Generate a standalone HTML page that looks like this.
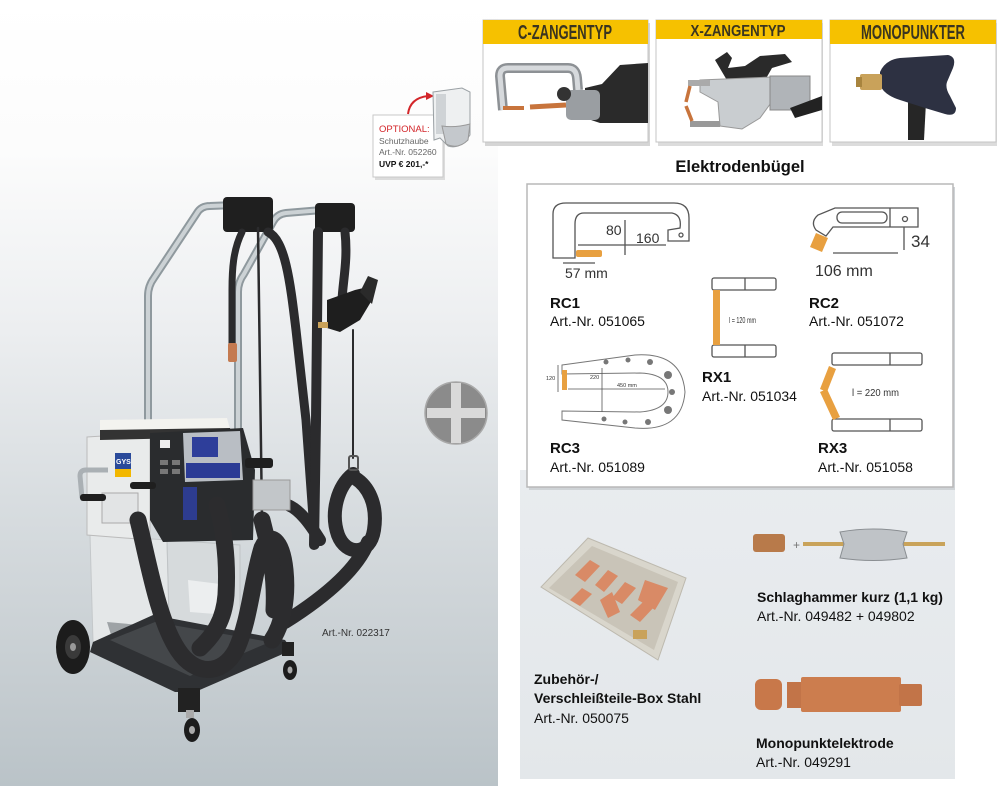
<!DOCTYPE html>
<html><head><meta charset="utf-8"><style>
html,body{margin:0;padding:0;background:#fff}
#c{position:relative;width:1000px;height:786px;overflow:hidden;background:#fff}
#lbg{position:absolute;left:0;top:0;width:498px;height:786px;background:linear-gradient(to bottom,#fff 0px,#fcfcfc 150px,#eceef0 330px,#d8dde0 500px,#c6cdd1 680px,#bac3c8 786px)}
#rp{position:absolute;left:520px;top:470px;width:435px;height:309px;background:linear-gradient(to bottom,#e9ecef,#e3e7ea)}
svg{position:absolute;left:0;top:0}
</style></head><body><div id="c">
<div id="lbg"></div><div id="rp"></div>
<svg width="1000" height="786" viewBox="0 0 1000 786" font-family="'Liberation Sans',Arial,sans-serif">
<!-- top cards -->
<rect x="485" y="23" width="165" height="123" fill="#d5d5d5"/>
<rect x="483" y="20" width="165" height="122" fill="#fff" stroke="#c4c4c4"/>
<rect x="483" y="20" width="165" height="24" fill="#f6c100"/>
<text x="565" y="39" text-anchor="middle" font-size="20" font-weight="bold" fill="#3a3520" textLength="94" lengthAdjust="spacingAndGlyphs">C-ZANGENTYP</text>
<rect x="658" y="23" width="165" height="123" fill="#dcdcdc"/>
<rect x="656" y="20" width="166" height="122" fill="#fff" stroke="#c4c4c4"/>
<rect x="656" y="20" width="166" height="19" fill="#f6c100"/>
<text x="738" y="36" text-anchor="middle" font-size="16" font-weight="bold" fill="#3a3520" textLength="95" lengthAdjust="spacingAndGlyphs">X-ZANGENTYP</text>
<rect x="832" y="23" width="165" height="123" fill="#dcdcdc"/>
<rect x="830" y="20" width="166" height="122" fill="#fff" stroke="#c4c4c4"/>
<rect x="830" y="20" width="166" height="24" fill="#f6c100"/>
<text x="913" y="39" text-anchor="middle" font-size="20" font-weight="bold" fill="#3a3520" textLength="104" lengthAdjust="spacingAndGlyphs">MONOPUNKTER</text>
<!-- card1 tool -->
<path d="M503,110 L500,76 Q500,68 508,68 L568,68 Q576,68 577,78 L578,90" fill="none" stroke="#8d9195" stroke-width="10"/>
<path d="M503,110 L500,76 Q500,68 508,68 L568,68 Q576,68 577,78 L578,90" fill="none" stroke="#d6d9dc" stroke-width="5"/>
<line x1="503" y1="108" x2="524" y2="108" stroke="#c8743c" stroke-width="4"/>
<line x1="530" y1="107" x2="566" y2="105" stroke="#c8743c" stroke-width="5"/>
<polygon points="585,88 602,84 620,65 648,63 648,123 600,123 585,118" fill="#2a2a2a"/>
<rect x="566" y="90" width="34" height="30" rx="5" fill="#9a9ea2"/>
<circle cx="564" cy="94" r="7" fill="#333"/>
<!-- card2 tool -->
<polygon points="715,60 727,52 732,58 728,68 745,66 760,56 785,54 792,62 772,68 764,82 728,82" fill="#2a2a2a"/>
<polygon points="700,80 772,77 776,96 760,118 742,129 720,126 718,102 700,92" fill="#c9cdd0" stroke="#999"/>
<rect x="770" y="76" width="40" height="34" fill="#b0b4b8" stroke="#888"/>
<polygon points="790,108 822,96 822,110 795,118" fill="#222"/>
<rect x="688" y="80" width="22" height="6" fill="#aaa"/>
<rect x="690" y="121" width="30" height="6" fill="#999"/>
<line x1="690" y1="86" x2="686" y2="102" stroke="#c8743c" stroke-width="3.5"/>
<line x1="686" y1="106" x2="692" y2="121" stroke="#c8743c" stroke-width="3.5"/>
<!-- card3 tool -->
<polygon points="908,98 926,102 924,140 908,140" fill="#262626"/>
<path d="M880,72 Q885,60 900,58 L948,55 Q957,57 953,68 L947,82 Q945,88 950,96 L956,108 Q956,117 945,114 L925,108 L900,100 Q884,95 880,85 Z" fill="#2d3142"/>
<rect x="860" y="74" width="22" height="16" rx="2" fill="#c9a25a"/>
<rect x="856" y="77" width="6" height="10" fill="#a8843e"/>
<!-- optional box -->
<rect x="375" y="118" width="70" height="62" fill="#dcdcdc"/>
<rect x="373" y="115" width="70" height="62" fill="#fff" stroke="#c8c8c8"/>
<text x="379" y="132" font-size="9.5" fill="#d3262a">OPTIONAL:</text>
<text x="379" y="144" font-size="8.5" fill="#666">Schutzhaube</text>
<text x="379" y="155" font-size="8.5" fill="#666">Art.-Nr. 052260</text>
<text x="379" y="167" font-size="8.5" font-weight="bold" fill="#111">UVP € 201,-*</text>
<path d="M408,114 Q410,98 428,96" fill="none" stroke="#d3262a" stroke-width="2"/>
<polygon points="426,92 434,96 426,100" fill="#d3262a"/>
<path d="M433,92 L462,88 L470,92 L470,135 Q460,150 448,146 L440,138 L434,140 Z" fill="#eef0f1" stroke="#9aa0a4"/>
<rect x="436" y="94" width="10" height="40" fill="#cfd3d6"/>
<path d="M442,126 Q455,128 470,124 L468,140 Q458,150 446,144 Z" fill="#c4c8cc" stroke="#999"/>
<!-- title -->
<text x="740" y="172" text-anchor="middle" font-size="16.5" font-weight="bold" fill="#111">Elektrodenbügel</text>
<!-- electrode box -->
<rect x="529" y="187" width="426" height="303" fill="#cfd3d6"/>
<rect x="527" y="184" width="426" height="303" fill="#fff" stroke="#b8b8b8" stroke-width="1.5"/>
<g fill="none" stroke="#555" stroke-width="1.3">
<!-- RC1 -->
<path d="M553,258 L553,214 Q553,203 566,203 L674,203 Q689,203 689,218 L689,241 L668,241 L668,230 L680,228 Q682,215 672,213 L584,213 Q575,213 575,224 L575,258 Z" fill="#fff"/>
<circle cx="681" cy="235" r="2"/>
<line x1="578" y1="245" x2="666" y2="245"/><line x1="625" y1="220" x2="625" y2="255"/>
<line x1="563" y1="263" x2="595" y2="263"/>
<!-- RC2 -->
<path d="M835,208 L918,208 L918,227 L833,227 L826,236 L816,230 Q810,222 818,215 Z" fill="#fff"/>
<rect x="837" y="212" width="50" height="11" rx="5"/>
<line x1="890" y1="208" x2="890" y2="227"/><circle cx="905" cy="219" r="2.5"/>
<line x1="833" y1="253" x2="898" y2="253"/><line x1="904" y1="227" x2="904" y2="250"/>
<!-- RX1 -->
<rect x="712" y="278" width="64" height="12" rx="2" fill="#fff"/><line x1="745" y1="278" x2="745" y2="290"/>
<rect x="712" y="345" width="64" height="12" rx="2" fill="#fff"/><line x1="745" y1="345" x2="745" y2="357"/>
<!-- RX3 -->
<rect x="832" y="353" width="90" height="12" rx="2" fill="#fff"/><line x1="890" y1="353" x2="890" y2="365"/>
<rect x="832" y="419" width="90" height="12" rx="2" fill="#fff"/><line x1="890" y1="419" x2="890" y2="431"/>
<!-- RC3 -->
<path d="M562,365 L635,355 Q682,352 685,392 Q682,432 635,428 L562,420 L562,411 L640,412 Q668,410 668,392 Q668,374 640,373 L562,374 Z" fill="#fff" stroke="#777" stroke-width="1"/>
<line x1="568" y1="389" x2="665" y2="389" stroke-width="0.8"/><line x1="602" y1="368" x2="602" y2="412" stroke-width="0.8"/>
<line x1="558" y1="365" x2="558" y2="392" stroke-width="0.8"/>
</g>
<g fill="#777" stroke="none">
<circle cx="606" cy="362" r="2.5"/><circle cx="628" cy="360" r="2.5"/><circle cx="650" cy="362" r="3"/><circle cx="668" cy="375" r="4"/><circle cx="672" cy="392" r="3"/><circle cx="668" cy="410" r="4"/><circle cx="648" cy="422" r="3"/><circle cx="625" cy="422" r="2.5"/><circle cx="604" cy="419" r="2.5"/>
</g>
<g fill="#e8a040">
<rect x="576" y="250" width="26" height="7" rx="2"/>
<polygon points="816,233 828,238 822,252 810,247"/>
<rect x="713" y="290" width="7" height="55"/>
<polygon points="829,366 836,369 827,392 820,389"/>
<polygon points="820,392 827,389 840,417 833,420"/>
<rect x="562" y="370" width="5" height="20"/>
</g>
<g fill="#333" font-size="14">
<text x="606" y="235">80</text><text x="636" y="243">160</text><text x="565" y="278">57 mm</text>
<text x="911" y="247" font-size="17">34</text><text x="815" y="276" font-size="16">106 mm</text>
<text x="729" y="323" font-size="8" textLength="27" lengthAdjust="spacingAndGlyphs">l = 120 mm</text>
<text x="852" y="396" font-size="10" textLength="47" lengthAdjust="spacingAndGlyphs">l = 220 mm</text>
<text x="546" y="380" font-size="5.5">120</text><text x="590" y="379" font-size="5.5">220</text><text x="617" y="387" font-size="5.5">450 mm</text>
</g>
<g fill="#111">
<text x="550" y="308" font-size="15" font-weight="bold">RC1</text><text x="550" y="326" font-size="14">Art.-Nr. 051065</text>
<text x="809" y="308" font-size="15" font-weight="bold">RC2</text><text x="809" y="326" font-size="14">Art.-Nr. 051072</text>
<text x="702" y="382" font-size="15" font-weight="bold">RX1</text><text x="702" y="401" font-size="14">Art.-Nr. 051034</text>
<text x="550" y="453" font-size="15" font-weight="bold">RC3</text><text x="550" y="472" font-size="14">Art.-Nr. 051089</text>
<text x="818" y="453" font-size="15" font-weight="bold">RX3</text><text x="818" y="472" font-size="14">Art.-Nr. 051058</text>
</g>
<!-- bottom panel images -->
<polygon points="588,538 686,578 658,660 541,587" fill="#d9d6cc" stroke="#bdb9ae"/>
<polygon points="592,546 678,582 654,650 549,588" fill="#c9c4b8"/>
<g fill="#d98a66">
<polygon points="575,575 590,560 600,566 585,582"/><polygon points="595,585 608,570 618,576 604,592"/>
<polygon points="612,598 625,582 636,588 622,604"/><polygon points="570,600 582,588 592,594 580,606"/>
<polygon points="630,615 645,600 655,606 640,622"/><polygon points="645,580 668,588 655,610 638,600"/>
<polygon points="600,600 612,592 620,612 608,618"/>
</g>
<rect x="633" y="630" width="14" height="9" fill="#c9a25a"/>
<rect x="753" y="534" width="32" height="18" rx="3" fill="#b87a4a"/>
<text x="793" y="549" font-size="12" fill="#777">+</text>
<line x1="803" y1="544" x2="945" y2="544" stroke="#c9a35a" stroke-width="4"/>
<path d="M840,532 Q873,526 907,532 L903,544 L907,558 Q873,563 840,558 L844,544 Z" fill="#bfc3c7" stroke="#8a8e92"/>
<rect x="755" y="679" width="27" height="31" rx="6" fill="#c8784a"/>
<rect x="787" y="682" width="16" height="26" fill="#c27448"/>
<rect x="801" y="677" width="100" height="35" rx="2" fill="#cc7d4e"/>
<rect x="899" y="684" width="23" height="22" rx="2" fill="#c27448"/>
<g fill="#111">
<text x="757" y="602" font-size="14" font-weight="bold">Schlaghammer kurz (1,1 kg)</text>
<text x="757" y="621" font-size="14">Art.-Nr. 049482 + 049802</text>
<text x="534" y="684" font-size="14" font-weight="bold">Zubehör-/</text>
<text x="534" y="703" font-size="14" font-weight="bold">Verschleißteile-Box Stahl</text>
<text x="534" y="723" font-size="14">Art.-Nr. 050075</text>
<text x="756" y="748" font-size="14" font-weight="bold">Monopunktelektrode</text>
<text x="756" y="767" font-size="14">Art.-Nr. 049291</text>
</g>
<!-- plus -->
<circle cx="456" cy="413" r="31" fill="#8b8b8b" stroke="#a9a9a9" stroke-width="1.5"/>
<rect x="427" y="408" width="58" height="10" fill="#d9d9d9"/>
<rect x="451" y="383" width="10" height="60" fill="#d9d9d9"/>
<!-- machine: tubes -->
<g fill="none" stroke-linecap="round">
<path d="M148,480 L148,296 Q148,286 154,278 L197,213 Q201,206 210,206 L235,205" stroke="#8f999e" stroke-width="8"/>
<path d="M148,480 L148,296 Q148,286 154,278 L197,213 Q201,206 210,206 L235,205" stroke="#ccd2d5" stroke-width="4"/>
<path d="M238,450 L238,292 Q238,282 244,274 L273,222 Q277,214 286,213 L322,210" stroke="#8f999e" stroke-width="8"/>
<path d="M238,450 L238,292 Q238,282 244,274 L273,222 Q277,214 286,213 L322,210" stroke="#ccd2d5" stroke-width="4"/>
</g>
<rect x="223" y="197" width="50" height="35" rx="4" fill="#1f1f1f"/>
<rect x="315" y="203" width="40" height="29" rx="4" fill="#1f1f1f"/>
<g fill="none" stroke="#2b2b2d" stroke-linecap="round">
<path d="M242,232 C233,250 232,270 232,290 L232,345" stroke-width="7"/>
<path d="M258,228 L262,520" stroke-width="2.5"/>
<path d="M268,232 C285,240 290,280 296,330 L306,420 L315,545" stroke-width="9"/>
<path d="M318,232 L316,420 L314,545" stroke-width="10"/>
<path d="M345,232 C348,260 343,280 342,300" stroke-width="9"/>
<path d="M353,330 L353,458" stroke-width="2"/>
<path d="M353,474 C338,486 330,512 338,535 C346,556 370,556 374,530 C378,504 368,486 355,478" stroke-width="14"/>
<path d="M368,542 C356,572 320,600 285,622" stroke-width="14"/>
<path d="M288,505 C300,510 310,524 320,540" stroke-width="12"/>
</g>
<rect x="228" y="343" width="9" height="19" rx="2" fill="#c47a50"/>
<rect x="349" y="456" width="9" height="14" rx="2" fill="none" stroke="#555" stroke-width="2"/>
<polygon points="327,300 355,290 372,286 372,300 360,320 340,332 327,328" fill="#1e1e1e"/>
<polygon points="360,292 368,276 378,280 372,304" fill="#2a2a2a"/>
<rect x="318" y="322" width="10" height="6" fill="#c9a25a"/>
<!-- trolley -->
<polygon points="90,535 167,540 170,662 93,642" fill="#e4e7e8" stroke="#c4c8ca"/>
<polygon points="107,622 140,625 140,640 112,638" fill="#9ea3a6"/>
<polygon points="167,540 240,545 240,630 170,650" fill="#d6dadc" stroke="#c0c4c6"/>
<polygon points="188,580 228,585 228,615 190,612" fill="#eceeef"/>
<polygon points="93,642 153,615 285,640 292,650 195,692 175,692 90,652" fill="#2f3134"/>
<polygon points="110,640 155,622 270,642 190,676" fill="#44474a"/>
<ellipse cx="73" cy="647" rx="17" ry="27" fill="#1c1c1c"/>
<ellipse cx="73" cy="647" rx="8" ry="12" fill="#3a3a3a"/><ellipse cx="73" cy="647" rx="3" ry="4" fill="#999"/>
<rect x="178" y="688" width="22" height="24" fill="#222"/>
<rect x="186" y="710" width="8" height="8" fill="#aaa"/>
<ellipse cx="192" cy="730" rx="8" ry="12" fill="#1c1c1c"/><ellipse cx="192" cy="730" rx="3" ry="4" fill="#aaa"/>
<rect x="282" y="642" width="12" height="14" fill="#222"/>
<ellipse cx="290" cy="670" rx="7" ry="10" fill="#1c1c1c"/><ellipse cx="290" cy="670" rx="2.5" ry="3.5" fill="#aaa"/>
<!-- machine body -->
<polygon points="87,437 150,433 150,540 87,535" fill="#e9ebeb" stroke="#bbb"/>
<polygon points="100,420 227,418 232,437 100,440" fill="#f3f3ef"/>
<polygon points="100,430 230,428 232,437 100,440" fill="#333"/>
<polygon points="150,433 243,428 255,470 253,540 163,542 150,520" fill="#2a2c2e"/>
<polygon points="183,433 240,431 243,480 185,482" fill="#b9bec4"/>
<rect x="192" y="437" width="26" height="20" fill="#2e3e9a"/>
<rect x="186" y="463" width="54" height="15" fill="#2b3b95"/>
<rect x="160" y="440" width="10" height="8" fill="#eee"/>
<g fill="#777"><rect x="160" y="460" width="8" height="5"/><rect x="172" y="460" width="8" height="5"/><rect x="160" y="469" width="8" height="5"/><rect x="172" y="469" width="8" height="5"/></g>
<rect x="183" y="487" width="14" height="33" fill="#2d3c8f"/>
<rect x="115" y="453" width="16" height="16" fill="#2a4a9a"/>
<text x="116" y="464" font-size="7" font-weight="bold" fill="#fff">GYS</text>
<rect x="115" y="469" width="16" height="8" fill="#f2b700"/>
<path d="M82,498 L80,476 Q80,470 86,470 L108,470" fill="none" stroke="#aab0b4" stroke-width="5"/>
<rect x="102" y="493" width="36" height="30" fill="#e2e4e5" stroke="#aaa"/>
<rect x="80" y="494" width="26" height="7" rx="3" fill="#1f1f1f"/>
<rect x="130" y="482" width="26" height="7" rx="3" fill="#1f1f1f"/>
<rect x="253" y="480" width="37" height="30" fill="#c2c6c9" stroke="#999"/>
<rect x="245" y="458" width="28" height="10" rx="3" fill="#1f1f1f"/>
<!-- thick lower cables -->
<g fill="none" stroke="#2c2c2e" stroke-linecap="round" stroke-width="17">
<path d="M138,520 C148,560 158,620 178,650 C195,676 222,676 236,650 C250,620 252,580 262,548 C270,530 282,540 285,570 C288,600 282,625 272,640"/>
<path d="M217,505 C224,530 228,560 226,595 C224,620 214,635 200,648"/>
<path d="M262,520 C268,545 276,570 274,610"/>
</g>
<text x="322" y="636" font-size="10" fill="#333">Art.-Nr. 022317</text>
</svg>
</div></body></html>
